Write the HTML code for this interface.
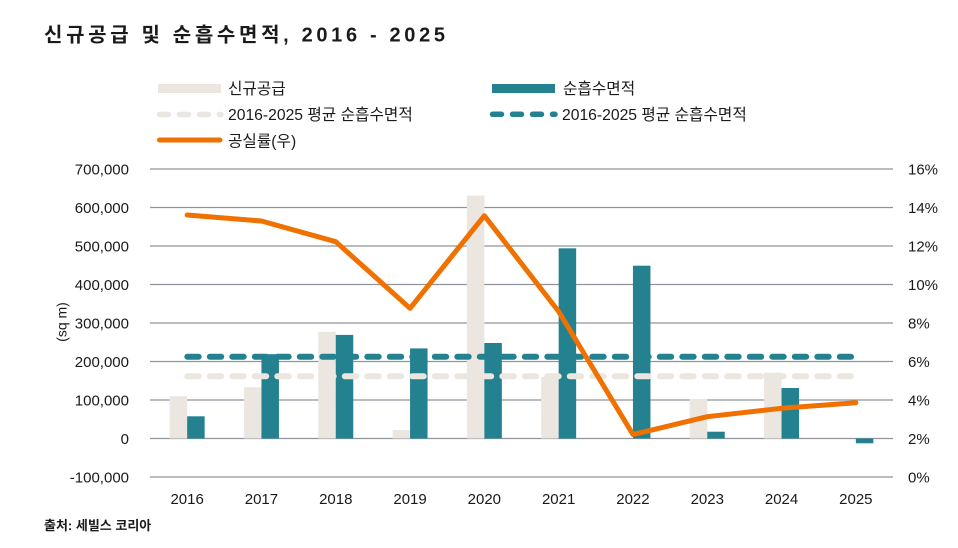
<!DOCTYPE html>
<html><head><meta charset="utf-8"><style>
html,body{margin:0;padding:0;background:#fff;}
svg{display:block;}
text{font-family:"Liberation Sans","Noto Sans CJK KR",sans-serif;fill:#1a1a1a;}
</style></head><body>
<svg width="958" height="548" viewBox="0 0 958 548" xmlns="http://www.w3.org/2000/svg">
<text x="44" y="41.5" font-size="20" font-weight="bold" textLength="401" lengthAdjust="spacing">신규공급 및 순흡수면적, 2016 - 2025</text>

<!-- legend -->
<rect x="158" y="84" width="63" height="9" fill="#ebe6e0"/>
<text x="228" y="94" font-size="15.7">신규공급</text>
<rect x="492" y="84" width="63" height="9" fill="#248290"/>
<text x="563" y="94" font-size="15.7">순흡수면적</text>
<path d="M159.5 114.5 H221" stroke="#ebe6e0" stroke-width="5.5" stroke-linecap="round" stroke-dasharray="9 11" fill="none"/>
<text x="228" y="120" font-size="15.7">2016-2025 평균 순흡수면적</text>
<path d="M492.5 114.3 H555" stroke="#248290" stroke-width="5.5" stroke-linecap="round" stroke-dasharray="9 11" fill="none"/>
<text x="562" y="120" font-size="15.7">2016-2025 평균 순흡수면적</text>
<path d="M159.5 140 H220" stroke="#f07000" stroke-width="5" stroke-linecap="round" fill="none"/>
<text x="228" y="146.5" font-size="15.7">공실률(우)</text>

<!-- gridlines -->
<g stroke="#8f949b" stroke-width="1.2">
<line x1="150" x2="893" y1="169" y2="169"/>
<line x1="150" x2="893" y1="207.5" y2="207.5"/>
<line x1="150" x2="893" y1="246" y2="246"/>
<line x1="150" x2="893" y1="284.5" y2="284.5"/>
<line x1="150" x2="893" y1="323" y2="323"/>
<line x1="150" x2="893" y1="361.5" y2="361.5"/>
<line x1="150" x2="893" y1="400" y2="400"/>
<line x1="150" x2="893" y1="438.5" y2="438.5"/>
<line x1="150" x2="893" y1="477" y2="477"/>
</g>

<!-- left axis labels -->
<g font-size="15" text-anchor="end">
<text x="129" y="174.3">700,000</text>
<text x="129" y="212.8">600,000</text>
<text x="129" y="251.3">500,000</text>
<text x="129" y="289.8">400,000</text>
<text x="129" y="328.3">300,000</text>
<text x="129" y="366.8">200,000</text>
<text x="129" y="405.3">100,000</text>
<text x="129" y="443.8">0</text>
<text x="129" y="482.3">-100,000</text>
</g>
<text transform="translate(66.5,322) rotate(-90)" font-size="14" text-anchor="middle">(sq m)</text>

<!-- right axis labels -->
<g font-size="15">
<text x="908" y="174.3">16%</text>
<text x="908" y="212.8">14%</text>
<text x="908" y="251.3">12%</text>
<text x="908" y="289.8">10%</text>
<text x="908" y="328.3">8%</text>
<text x="908" y="366.8">6%</text>
<text x="908" y="405.3">4%</text>
<text x="908" y="443.8">2%</text>
<text x="908" y="482.3">0%</text>
</g>

<!-- x labels -->
<g font-size="15" text-anchor="middle">
<text x="187.15" y="504">2016</text>
<text x="261.45" y="504">2017</text>
<text x="335.75" y="504">2018</text>
<text x="410.05" y="504">2019</text>
<text x="484.35" y="504">2020</text>
<text x="558.65" y="504">2021</text>
<text x="632.95" y="504">2022</text>
<text x="707.25" y="504">2023</text>
<text x="781.55" y="504">2024</text>
<text x="855.85" y="504">2025</text>
</g>

<!-- supply bars -->
<g fill="#ebe6e0">
<rect x="169.65" y="396.15" width="17.5" height="42.35"/>
<rect x="243.95" y="387.3" width="17.5" height="51.2"/>
<rect x="318.25" y="331.9" width="17.5" height="106.6"/>
<rect x="392.55" y="430" width="17.5" height="8.5"/>
<rect x="466.85" y="195.6" width="17.5" height="242.9"/>
<rect x="541.15" y="376.9" width="17.5" height="61.6"/>
<rect x="689.75" y="399.2" width="17.5" height="39.3"/>
<rect x="764.05" y="372.7" width="17.5" height="65.8"/>
</g>
<!-- net bars -->
<g fill="#248290">
<rect x="187.15" y="416.3" width="17.5" height="22.2"/>
<rect x="261.45" y="354.2" width="17.5" height="84.3"/>
<rect x="335.75" y="334.9" width="17.5" height="103.6"/>
<rect x="410.05" y="348.4" width="17.5" height="90.1"/>
<rect x="484.35" y="343" width="17.5" height="95.5"/>
<rect x="558.65" y="248.3" width="17.5" height="190.2"/>
<rect x="632.95" y="265.7" width="17.5" height="172.8"/>
<rect x="707.25" y="431.7" width="17.5" height="6.8"/>
<rect x="781.55" y="388" width="17.5" height="50.5"/>
<rect x="855.85" y="438.5" width="17.5" height="4.8"/>
</g>

<!-- average dashed lines -->
<path d="M187.3 376.3 H851" stroke="#ebe6e0" stroke-width="6" stroke-linecap="round" stroke-dasharray="11.4 11.1" fill="none"/>
<path d="M187.3 356.7 H851" stroke="#248290" stroke-width="6" stroke-linecap="round" stroke-dasharray="11.4 11.1" fill="none"/>

<!-- vacancy line -->
<polyline points="187.15,215 261.45,221 335.75,241.7 410.05,308.3 484.35,215.7 558.65,311.5 632.95,434.5 707.25,416.7 781.55,408.3 855.85,402.7" fill="none" stroke="#f07000" stroke-width="5" stroke-linecap="round" stroke-linejoin="round"/>

<text x="44" y="530" font-size="13" font-weight="bold">출처: 세빌스 코리아</text>
</svg>
</body></html>
